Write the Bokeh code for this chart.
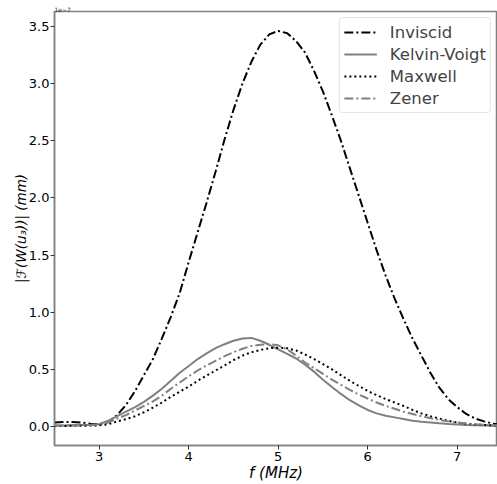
from bokeh.plotting import figure
from bokeh.models import Range1d, FixedTicker, Legend, LegendItem, NumeralTickFormatter, Title
from bokeh.embed import file_html
from bokeh.resources import INLINE

# frequency in MHz
f = [2.5, 2.6, 2.7, 2.8, 2.9, 3.0, 3.1, 3.2, 3.3, 3.4, 3.5, 3.6, 3.7, 3.8, 3.9,
     4.0, 4.1, 4.2, 4.3, 4.4, 4.5, 4.6, 4.7, 4.8, 4.9, 5.0, 5.1, 5.2, 5.3, 5.4,
     5.5, 5.6, 5.7, 5.8, 5.9, 6.0, 6.1, 6.2, 6.3, 6.4, 6.5, 6.6, 6.7, 6.8, 6.9,
     7.0, 7.1, 7.2, 7.3, 7.4, 7.5]

# |F(W(u3))| in units of 1e-7 mm
inviscid = [0.035, 0.04, 0.04, 0.035, 0.025, 0.02, 0.04, 0.10, 0.19, 0.31, 0.45,
            0.59, 0.77, 0.96, 1.17, 1.44, 1.70, 1.96, 2.23, 2.51, 2.77, 3.00,
            3.19, 3.34, 3.43, 3.46, 3.44, 3.37, 3.27, 3.11, 2.93, 2.72, 2.50,
            2.26, 2.02, 1.78, 1.54, 1.32, 1.12, 0.94, 0.77, 0.62, 0.47, 0.34,
            0.24, 0.17, 0.11, 0.07, 0.045, 0.025, 0.015]
kelvin_voigt = [0.01, 0.01, 0.012, 0.014, 0.016, 0.02, 0.05, 0.09, 0.13, 0.17, 0.215,
                0.27, 0.33, 0.40, 0.47, 0.53, 0.59, 0.64, 0.685, 0.72, 0.75, 0.77,
                0.775, 0.75, 0.715, 0.675, 0.635, 0.595, 0.54, 0.48, 0.41, 0.345,
                0.285, 0.23, 0.185, 0.145, 0.115, 0.095, 0.08, 0.065, 0.05, 0.042,
                0.035, 0.028, 0.022, 0.018, 0.014, 0.011, 0.009, 0.007, 0.006]
maxwell = [0.005, 0.005, 0.006, 0.007, 0.008, 0.01, 0.02, 0.045, 0.065, 0.09, 0.125,
           0.165, 0.21, 0.26, 0.305, 0.35, 0.40, 0.445, 0.49, 0.535, 0.58, 0.62,
           0.65, 0.67, 0.685, 0.69, 0.685, 0.665, 0.63, 0.59, 0.545, 0.50, 0.45,
           0.40, 0.355, 0.31, 0.275, 0.24, 0.21, 0.18, 0.145, 0.115, 0.09, 0.07,
           0.05, 0.035, 0.025, 0.018, 0.013, 0.01, 0.008]
zener = [0.008, 0.008, 0.009, 0.01, 0.012, 0.02, 0.035, 0.07, 0.10, 0.14, 0.18,
         0.22, 0.27, 0.33, 0.385, 0.44, 0.49, 0.535, 0.575, 0.615, 0.65, 0.68,
         0.705, 0.715, 0.72, 0.71, 0.675, 0.62, 0.56, 0.51, 0.46, 0.41, 0.365,
         0.32, 0.28, 0.245, 0.21, 0.18, 0.155, 0.13, 0.11, 0.09, 0.073, 0.058,
         0.045, 0.035, 0.027, 0.02, 0.015, 0.012, 0.01]

x_ticks = [3, 4, 5, 6, 7]
y_ticks = [0.0, 0.5, 1.0, 1.5, 2.0, 2.5, 3.0, 3.5]

FONT = "DejaVu Sans"
GREY = "#808080"

p = figure(width=497, height=484, output_backend="svg", toolbar_location=None,
           x_range=Range1d(2.5, 7.45), y_range=Range1d(-0.166, 3.63),
           min_border_left=54, min_border_right=0, min_border_top=11,
           min_border_bottom=39)
p.grid.visible = False
p.outline_line_color = GREY
p.outline_line_width = 1.5
p.background_fill_color = "white"
p.border_fill_color = "white"

# scale factor shown above the y axis
t = Title(text="1e\u22127", text_font=FONT, text_font_size="6px",
          text_font_style="normal", text_color="#333333", align="left",
          standoff=0, offset=0)
p.add_layout(t, "above")

for ax in (p.xaxis[0], p.yaxis[0]):
    ax.axis_line_color = GREY
    ax.axis_line_width = 1.5
    ax.major_tick_line_color = "#333333"
    ax.major_tick_out = 4
    ax.major_tick_in = 0
    ax.minor_tick_line_color = None
    ax.major_label_text_font = FONT
    ax.major_label_text_font_size = "13px"
    ax.major_label_text_color = "black"
    ax.axis_label_text_font = FONT
    ax.axis_label_text_font_style = "italic"
    ax.axis_label_text_color = "black"

p.xaxis.ticker = FixedTicker(ticks=x_ticks)
p.yaxis.ticker = FixedTicker(ticks=y_ticks)
p.yaxis.formatter = NumeralTickFormatter(format="0.0")
p.xaxis.major_label_standoff = 2
p.xaxis.axis_label_standoff = 0
p.xaxis.axis_label_text_font_size = "15px"
p.xaxis.axis_label = "f (MHz)"
p.yaxis.major_label_standoff = 1
p.yaxis.axis_label_standoff = -3
p.yaxis.axis_label_text_font_size = "13.5px"
p.yaxis.axis_label = "|\u2131(W(u\u2083))| (mm)"

r1 = p.line(f, inviscid, line_color="black", line_width=2, line_dash="9 3 2 3")
r2 = p.line(f, kelvin_voigt, line_color=GREY, line_width=2)
r3 = p.line(f, maxwell, line_color="black", line_width=2, line_dash="2 3")
r4 = p.line(f, zener, line_color=GREY, line_width=2, line_dash="9 3 2 3")

legend = Legend(items=[LegendItem(label="Inviscid", renderers=[r1]),
                       LegendItem(label="Kelvin-Voigt", renderers=[r2]),
                       LegendItem(label="Maxwell", renderers=[r3]),
                       LegendItem(label="Zener", renderers=[r4])],
                location="top_right")
legend.label_text_font = FONT
legend.label_text_font_size = "16.5px"
legend.label_height = 20
legend.glyph_height = 20
legend.glyph_width = 33
legend.spacing = 2
legend.padding = 4
legend.margin = 6
legend.label_standoff = 13
legend.border_line_color = "#cccccc"
legend.border_line_width = 1
legend.border_radius = 4
legend.background_fill_alpha = 0.8
p.add_layout(legend)

open("out.html", "w").write(file_html(p, INLINE))
